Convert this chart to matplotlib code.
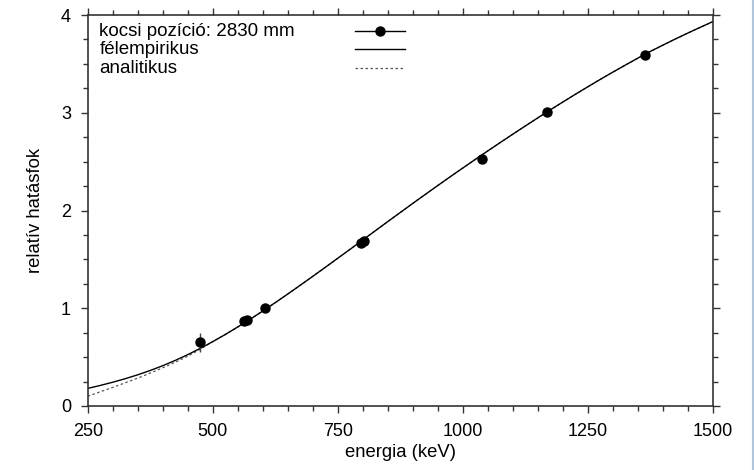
import matplotlib

matplotlib.use("Agg")
import matplotlib.pyplot as plt
from matplotlib.lines import Line2D
from matplotlib.ticker import MultipleLocator

plt.rcParams["font.family"] = ["Liberation Sans", "DejaVu Sans"]

# measured relative efficiencies (Cs-134 lines), normalised at 604.7 keV
meas_energy = [475.4, 563.2, 569.3, 604.7, 795.9, 801.9, 1038.6, 1167.9, 1365.2]
meas_eff = [0.652, 0.865, 0.88, 1.0, 1.665, 1.685, 2.525, 3.005, 3.59]
meas_err = [0.097, 0.012, 0.012, 0.01, 0.012, 0.012, 0.015, 0.015, 0.015]

# fitted efficiency curves, sampled every 25 keV
curve_energy = [250, 275, 300, 325, 350, 375, 400, 425, 450, 475, 500, 525,
                550, 575, 600, 625, 650, 675, 700, 725, 750, 775, 800, 825,
                850, 875, 900, 925, 950, 975, 1000, 1025, 1050, 1075, 1100,
                1125, 1150, 1175, 1200, 1225, 1250, 1275, 1300, 1325, 1350,
                1375, 1400, 1425, 1450, 1475, 1500]
semi_empirical = [0.180, 0.210, 0.243, 0.279, 0.319, 0.363, 0.412, 0.466,
                  0.525, 0.589, 0.658, 0.731, 0.808, 0.888, 0.971, 1.057,
                  1.145, 1.235, 1.326, 1.418, 1.511, 1.604, 1.698, 1.792,
                  1.886, 1.979, 2.072, 2.164, 2.255, 2.345, 2.434, 2.522,
                  2.609, 2.695, 2.780, 2.864, 2.947, 3.029, 3.109, 3.188,
                  3.265, 3.341, 3.415, 3.487, 3.558, 3.627, 3.691, 3.754,
                  3.815, 3.874, 3.932]
analytic = [0.100, 0.145, 0.190, 0.237, 0.285, 0.336, 0.390, 0.447, 0.509,
            0.580, 0.658, 0.731, 0.808, 0.888, 0.971, 1.057, 1.145, 1.235,
            1.326, 1.418, 1.511, 1.604, 1.698, 1.792, 1.886, 1.979, 2.072,
            2.164, 2.255, 2.345, 2.434, 2.522, 2.609, 2.695, 2.780, 2.864,
            2.947, 3.029, 3.109, 3.188, 3.265, 3.341, 3.415, 3.487, 3.558,
            3.627, 3.691, 3.754, 3.815, 3.874, 3.932]

legend_labels = ["kocsi pozíció: 2830 mm", "félempirikus", "analitikus"]

fig = plt.figure(figsize=(7.54, 4.70), dpi=100)
ax = fig.add_axes([0.1163, 0.1362, 0.8289, 0.8318])

dotted = (0, (2, 2))
ax.plot(curve_energy, analytic, color="#555555", lw=0.9, ls=dotted)
ax.plot(curve_energy, semi_empirical, color="black", lw=1.0)
ax.errorbar(meas_energy, meas_eff, yerr=meas_err, fmt="o", color="black",
            ms=6.5, elinewidth=1.0, capsize=0, ecolor="#444444")

ax.set_xlim(250, 1500)
ax.set_ylim(0, 4)
ax.xaxis.set_major_locator(MultipleLocator(250))
ax.xaxis.set_minor_locator(MultipleLocator(50))
ax.yaxis.set_major_locator(MultipleLocator(1))
ax.yaxis.set_minor_locator(MultipleLocator(0.25))

for side in ax.spines.values():
    side.set_color("#333333")
    side.set_linewidth(1.2)
ax.tick_params(which="both", direction="out", top=True, right=True,
               color="#333333", width=1.0, labelsize=13, labelcolor="black")
ax.tick_params(which="major", length=5, pad=7)
ax.tick_params(which="minor", length=3.5)

ax.set_xlabel("energia (keV)", fontsize=13.3, labelpad=3)
ax.set_ylabel("relatív hatásfok", fontsize=13.3, labelpad=12)

# gnuplot-style key: labels on the left, samples in a column on the right
row_y = [0.959, 0.912, 0.864]
tx, hx0, hx1 = 0.0186, 0.4277, 0.5077
for y, label in zip(row_y, legend_labels):
    ax.text(tx, y, label, transform=ax.transAxes, fontsize=13.5,
            va="center", ha="left")
ax.add_line(Line2D([hx0, hx1], [row_y[0]] * 2, transform=ax.transAxes,
                   color="black", lw=1.0))
ax.add_line(Line2D([(hx0 + hx1) / 2], [row_y[0]], transform=ax.transAxes,
                   color="black", marker="o", ms=6.5, ls="none"))
ax.add_line(Line2D([hx0, hx1], [row_y[1]] * 2, transform=ax.transAxes,
                   color="black", lw=1.0))
ax.add_line(Line2D([hx0, hx1], [row_y[2]] * 2, transform=ax.transAxes,
                   color="#555555", lw=0.9, ls=dotted))

# thin window edge on the right
fig.add_artist(Line2D([0.9985, 0.9985], [0, 1], transform=fig.transFigure,
                      color="#a9c8e8", lw=1.5))

fig.savefig("out.png", dpi=100)
